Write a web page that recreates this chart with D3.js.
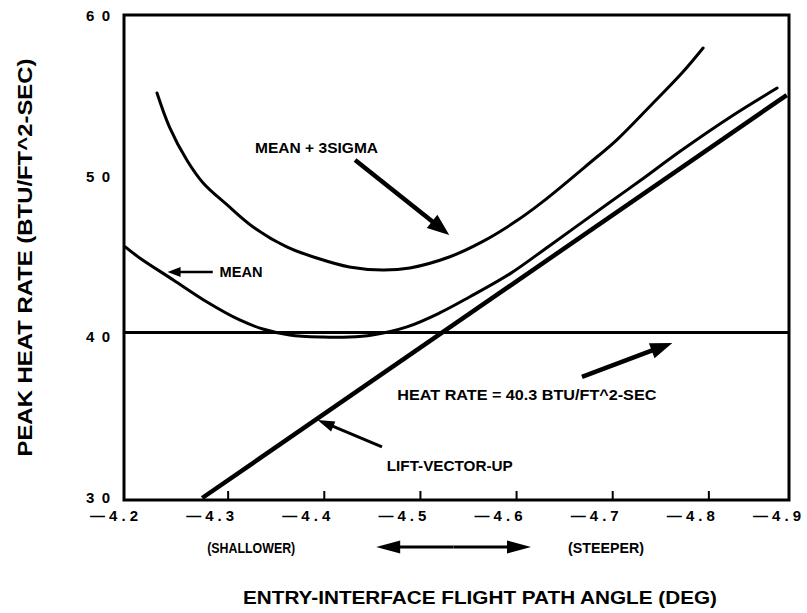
<!DOCTYPE html>
<html>
  <head>
    <meta charset="utf-8">
    <script src="https://d3js.org/d3.v7.min.js"></script>
    <style>
      body { margin: 0; background: #fff; }
      svg { display: block; }
      text { font-family: "Liberation Sans", Arial, sans-serif; font-weight: bold; fill: #000; }
    </style>
  </head>
  <body>
    <div id="chart"></div>
    <script>
      // values
      const xTicks = [-4.2, -4.3, -4.4, -4.5, -4.6, -4.7, -4.8, -4.9]
      const yTicks = [30, 40, 50, 60]

      // MEAN + 3SIGMA curve
      const sigmaX = [-4.226, -4.239, -4.257, -4.274, -4.299, -4.326, -4.361, -4.392, -4.426, -4.461,
                      -4.489, -4.530, -4.564, -4.600, -4.627, -4.676, -4.704, -4.738, -4.772, -4.794]
      const sigmaY = [55.21, 53.09, 51.04, 49.61, 48.24, 46.87, 45.63, 44.94, 44.38, 44.19,
                      44.32, 45.00, 45.94, 47.25, 48.43, 50.85, 52.28, 54.34, 56.45, 58.01]

      // MEAN curve
      const meanX = [-4.193, -4.208, -4.243, -4.278, -4.312, -4.336, -4.364, -4.398, -4.426, -4.450,
                     -4.486, -4.520, -4.551, -4.593, -4.634, -4.696, -4.728, -4.772, -4.824, -4.871]
      const meanY = [45.63, 44.94, 43.57, 42.20, 41.08, 40.52, 40.15, 40.02, 40.02, 40.15,
                     40.65, 41.52, 42.51, 43.95, 45.69, 48.36, 49.73, 51.66, 53.78, 55.52]

      // LIFT-VECTOR-UP (straight line)
      const liftX = [-4.273, -4.881]
      const liftY = [30.0, 55.08]

      const heatLimit = 40.3

      const W = 807, H = 613
      const frame = {left: 124, right: 789, top: 15, bottom: 500}

      const x = d3.scaleLinear().domain([-4.2, -4.9]).range([132, 805])
      const y = d3.scaleLinear().domain([30, 60]).range([498, 16])

      const svg = d3.select('#chart').append('svg')
        .attr('width', W).attr('height', H)

      // frame
      svg.append('rect')
        .attr('x', frame.left).attr('y', frame.top)
        .attr('width', frame.right - frame.left).attr('height', frame.bottom - frame.top)
        .attr('fill', 'none').attr('stroke', '#000').attr('stroke-width', 3)

      // x ticks (inside, pointing up) -- none at the ends
      svg.selectAll('.xtick')
        .data(xTicks.slice(1, -1))
        .join('line')
          .attr('x1', d => x(d)).attr('x2', d => x(d))
          .attr('y1', frame.bottom).attr('y2', frame.bottom - 9)
          .attr('stroke', '#000').attr('stroke-width', 2)

      svg.selectAll('.xlab')
        .data(xTicks)
        .join('text')
          .attr('x', d => Math.min(x(d) + 6, 801))
          .attr('y', 521)
          .attr('text-anchor', 'end')
          .attr('font-size', 15)
          .attr('textLength', 48)
          .attr('lengthAdjust', 'spacing')
          .text(d => '\u2014' + Math.abs(d).toFixed(1))

      svg.selectAll('.ylab')
        .data(yTicks)
        .join('text')
          .attr('x', 110)
          .attr('y', d => y(d) + 5)
          .attr('text-anchor', 'end')
          .attr('font-size', 15)
          .attr('textLength', 24)
          .attr('lengthAdjust', 'spacing')
          .text(d => d)

      // axis titles
      svg.append('text')
        .attr('transform', `translate(32, ${(frame.top + frame.bottom) / 2}) rotate(-90)`)
        .attr('text-anchor', 'middle')
        .attr('font-size', 20)
        .attr('textLength', 398)
        .attr('lengthAdjust', 'spacingAndGlyphs')
        .text('PEAK HEAT RATE (BTU/FT^2-SEC)')

      svg.append('text')
        .attr('x', 480).attr('y', 604)
        .attr('text-anchor', 'middle')
        .attr('font-size', 18)
        .attr('textLength', 474)
        .attr('lengthAdjust', 'spacingAndGlyphs')
        .text('ENTRY-INTERFACE FLIGHT PATH ANGLE (DEG)')

      svg.append('text')
        .attr('x', x(-4.324)).attr('y', 553)
        .attr('text-anchor', 'middle').attr('font-size', 14)
        .attr('textLength', 88).attr('lengthAdjust', 'spacingAndGlyphs')
        .text('(SHALLOWER)')
      svg.append('text')
        .attr('x', x(-4.693)).attr('y', 553)
        .attr('text-anchor', 'middle').attr('font-size', 14)
        .attr('textLength', 76).attr('lengthAdjust', 'spacingAndGlyphs')
        .text('(STEEPER)')

      // arrow helper (pixel space)
      function arrow(x1, y1, x2, y2, sw, hl, hw) {
        const dx = x2 - x1, dy = y2 - y1, L = Math.hypot(dx, dy)
        const ux = dx / L, uy = dy / L
        const bx = x2 - ux * hl, by = y2 - uy * hl
        svg.append('line')
          .attr('x1', x1).attr('y1', y1).attr('x2', bx + ux * 2).attr('y2', by + uy * 2)
          .attr('stroke', '#000').attr('stroke-width', sw)
        svg.append('polygon')
          .attr('points', [[x2, y2], [bx - uy * hw / 2, by + ux * hw / 2], [bx + uy * hw / 2, by - ux * hw / 2]].join(' '))
          .attr('fill', '#000')
      }

      // double arrow under the axis
      const ax1 = x(-4.454), ax2 = x(-4.615), ay = 547
      arrow((ax1 + ax2) / 2, ay, ax1, ay, 3, 24, 13)
      arrow((ax1 + ax2) / 2, ay, ax2, ay, 3, 24, 13)

      // heat rate limit line
      svg.append('line')
        .attr('x1', frame.left).attr('x2', frame.right)
        .attr('y1', y(heatLimit)).attr('y2', y(heatLimit))
        .attr('stroke', '#000').attr('stroke-width', 3)

      const line = d3.line().x(d => x(d[0])).y(d => y(d[1])).curve(d3.curveCatmullRom)

      svg.append('path')
        .datum(sigmaX.map((v, i) => [v, sigmaY[i]]))
        .attr('d', line)
        .attr('fill', 'none').attr('stroke', '#000').attr('stroke-width', 3)
        .attr('stroke-linecap', 'round')

      svg.append('path')
        .datum(meanX.map((v, i) => [v, meanY[i]]))
        .attr('d', line)
        .attr('fill', 'none').attr('stroke', '#000').attr('stroke-width', 3)
        .attr('stroke-linecap', 'round')

      svg.append('path')
        .datum(liftX.map((v, i) => [v, liftY[i]]))
        .attr('d', d3.line().x(d => x(d[0])).y(d => y(d[1])))
        .attr('fill', 'none').attr('stroke', '#000').attr('stroke-width', 4.5)

      // annotations (data units)
      const notes = [
        {text: 'MEAN + 3SIGMA', x: -4.328, y: 51.47, w: 123},
        {text: 'MEAN', x: -4.291, y: 43.76, w: 43},
        {text: 'HEAT RATE = 40.3 BTU/FT^2-SEC', x: -4.476, y: 36.10, w: 259},
        {text: 'LIFT-VECTOR-UP', x: -4.465, y: 31.69, w: 126}
      ]
      svg.selectAll('.note')
        .data(notes)
        .join('text')
          .attr('x', d => x(d.x)).attr('y', d => y(d.y))
          .attr('font-size', 15)
          .attr('textLength', d => d.w)
          .attr('lengthAdjust', 'spacingAndGlyphs')
          .text(d => d.text)

      const pointers = [
        {from: [-4.432, 51.04], to: [-4.530, 46.37], sw: 4.5, hl: 22, hw: 17},
        {from: [-4.284, 44.07], to: [-4.237, 44.07], sw: 2.5, hl: 13, hw: 10},
        {from: [-4.668, 37.54], to: [-4.762, 39.65], sw: 4.5, hl: 22, hw: 16},
        {from: [-4.460, 33.18], to: [-4.393, 34.86], sw: 3, hl: 17, hw: 11}
      ]
      pointers.forEach(p => arrow(x(p.from[0]), y(p.from[1]), x(p.to[0]), y(p.to[1]), p.sw, p.hl, p.hw))
    </script>
  </body>
</html>
